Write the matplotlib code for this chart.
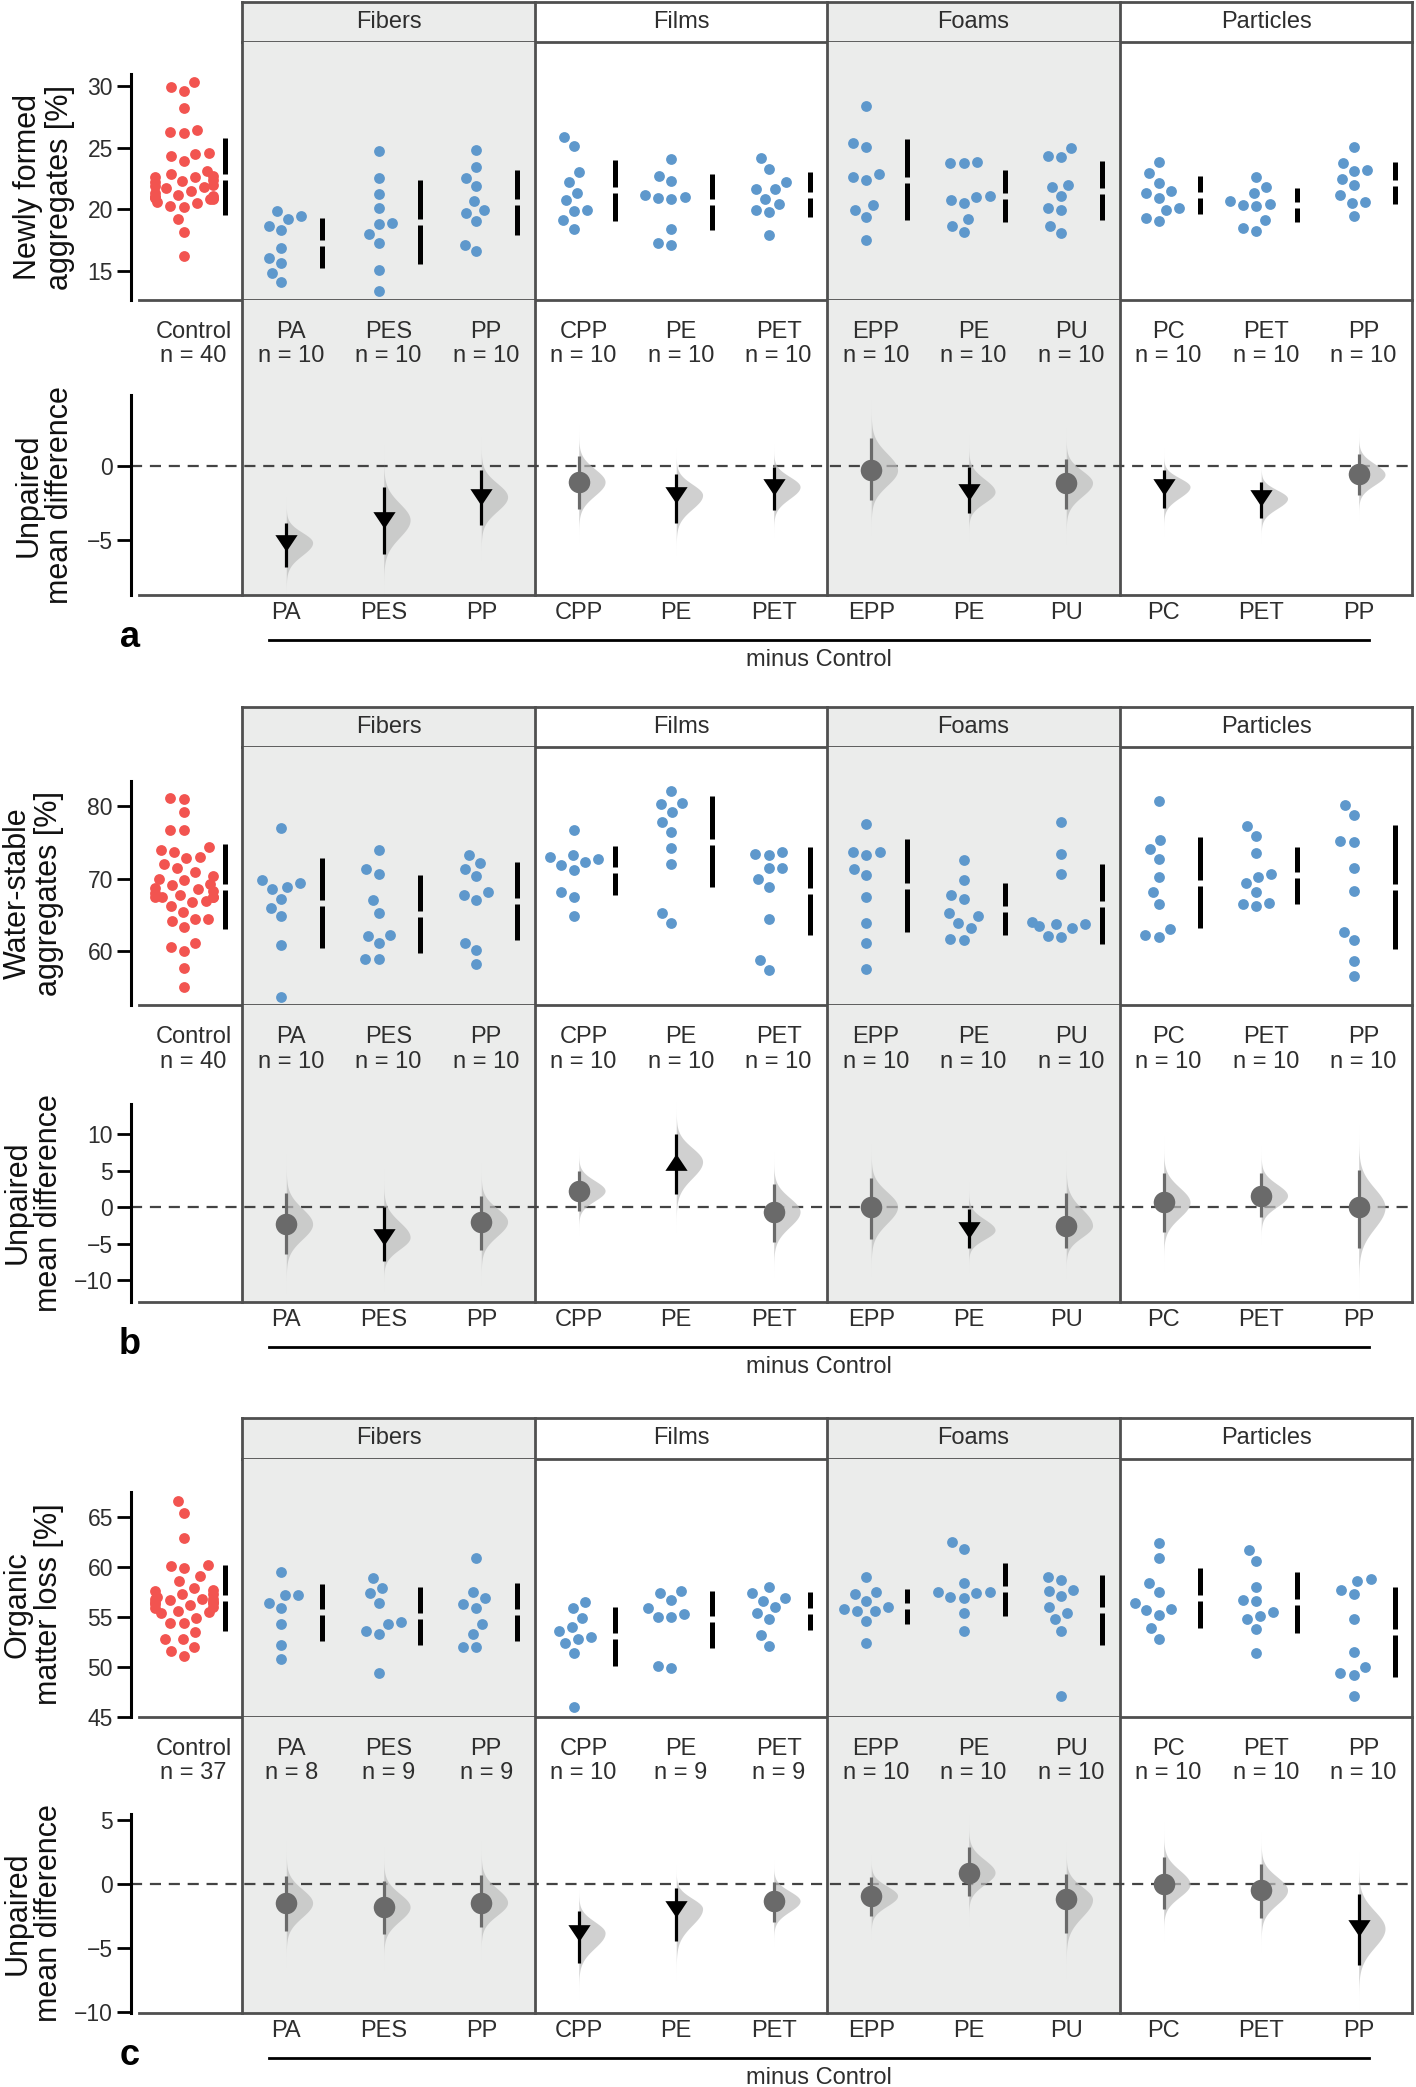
import numpy as np
import matplotlib
matplotlib.use('Agg')
import matplotlib.pyplot as plt
from matplotlib.transforms import offset_copy

plt.rcParams['font.family'] = ['Liberation Sans', 'DejaVu Sans']

# ---------------- data ----------------
groups = ['Fibers', 'Films', 'Foams', 'Particles']
shaded_groups = ['Fibers', 'Foams']
categories = ['Control', 'PA', 'PES', 'PP', 'CPP', 'PE', 'PET', 'EPP', 'PE', 'PU', 'PC', 'PET', 'PP']

# panel a : Newly formed aggregates [%]
a_control = [30.3, 29.9, 29.6, 28.2, 26.4, 26.2, 26.3, 24.6, 24.5, 24.3, 23.9, 23.1, 22.9, 22.7,
             22.6, 22.6, 22.4, 22.3, 22.2, 22.0, 21.9, 21.8, 21.7, 21.5, 21.3, 21.2, 21.1, 21.0,
             21.0, 20.9, 20.9, 20.8, 20.8, 20.6, 20.5, 20.3, 20.2, 19.2, 18.2, 16.2]
a_treat = [
    [19.25, 19.85, 19.44, 18.63, 18.30, 16.89, 16.05, 15.68, 14.86, 14.08],
    [24.75, 22.58, 21.28, 20.12, 18.90, 18.79, 17.98, 17.27, 15.11, 13.37],
    [24.83, 23.45, 22.58, 21.88, 20.66, 19.74, 19.93, 19.03, 17.14, 16.62],
    [25.88, 25.13, 23.01, 22.23, 21.33, 20.74, 19.95, 19.87, 19.11, 18.44],
    [24.10, 22.69, 22.31, 20.82, 21.01, 20.93, 21.17, 18.41, 17.27, 17.08],
    [24.15, 23.28, 22.23, 21.61, 21.66, 20.85, 20.47, 19.98, 19.79, 17.95],
    [28.38, 25.07, 25.34, 22.63, 22.42, 22.85, 20.36, 19.93, 19.39, 17.54],
    [23.72, 23.80, 23.77, 20.55, 21.01, 20.79, 21.06, 19.20, 18.65, 18.17],
    [24.21, 24.94, 24.32, 21.82, 22.01, 21.06, 20.12, 19.93, 18.65, 18.09],
    [23.85, 22.93, 22.17, 21.36, 21.47, 20.96, 20.09, 19.98, 19.33, 19.03],
    [22.63, 21.36, 21.82, 20.28, 20.47, 20.39, 20.66, 19.11, 18.52, 18.25],
    [25.02, 23.72, 23.18, 23.12, 22.50, 21.96, 21.15, 20.55, 20.63, 19.47],
]
a_bar_mean = [22.64, 17.30, 18.98, 20.59, 21.55, 20.60, 21.19, 22.39, 21.08, 21.50, 21.15, 20.36, 22.10]
a_bar_sd = [3.12, 2.03, 3.39, 2.64, 2.49, 2.30, 1.80, 3.28, 2.10, 2.39, 1.55, 1.38, 1.70]
a_delta = [-5.18, -3.65, -2.09, -1.08, -1.97, -1.41, -0.29, -1.75, -1.14, -1.41, -2.20, -0.58]
a_ci_lo = [-6.86, -5.94, -3.99, -2.91, -3.83, -2.98, -2.31, -3.20, -2.94, -2.87, -3.54, -1.97]
a_ci_hi = [-3.83, -1.46, -0.29, 0.65, -0.52, -0.07, 1.91, -0.07, 0.47, -0.25, -1.08, 0.83]

# panel b : Water-stable aggregates [%]
b_control = [81.1, 81.0, 79.1, 76.7, 76.7, 74.3, 73.9, 73.7, 73.0, 72.8, 72.0, 71.4, 70.9, 70.3,
             69.9, 69.8, 69.2, 69.1, 68.7, 68.5, 68.3, 68.0, 67.7, 67.5, 67.5, 67.5, 67.5, 66.9,
             66.8, 66.2, 65.4, 64.5, 64.4, 64.1, 63.3, 61.1, 60.6, 60.1, 57.7, 55.1]
b_treat = [
    [77.0, 69.4, 69.8, 68.5, 68.9, 67.2, 66.0, 64.9, 60.9, 53.7],
    [73.9, 70.6, 71.3, 67.0, 65.3, 62.1, 62.2, 61.1, 58.9, 58.9],
    [73.3, 72.2, 71.3, 70.4, 68.1, 67.8, 67.1, 61.1, 60.2, 58.2],
    [76.7, 73.0, 73.3, 72.3, 71.9, 72.7, 71.2, 68.1, 67.5, 64.8],
    [82.1, 80.2, 80.4, 79.1, 77.8, 76.4, 74.2, 72.0, 65.2, 63.9],
    [73.3, 73.7, 73.4, 71.5, 71.4, 69.9, 68.8, 64.4, 58.8, 57.4],
    [77.5, 73.6, 73.7, 73.3, 71.3, 70.5, 67.4, 63.9, 61.2, 57.6],
    [72.6, 69.8, 67.8, 67.2, 65.2, 64.8, 63.9, 63.2, 61.7, 61.6],
    [77.8, 73.4, 70.6, 63.5, 63.7, 63.7, 64.0, 63.2, 62.1, 62.0],
    [80.7, 75.3, 74.1, 72.7, 70.2, 68.2, 66.5, 62.2, 62.0, 63.0],
    [77.3, 75.9, 73.5, 70.2, 70.6, 69.4, 68.2, 66.5, 66.2, 66.7],
    [80.1, 78.7, 75.2, 75.0, 71.4, 68.3, 62.7, 61.5, 58.7, 56.6],
]
b_bar_mean = [68.9, 66.6, 65.1, 66.95, 71.15, 75.1, 68.25, 69.0, 65.8, 66.5, 69.45, 70.45, 68.85]
b_bar_sd = [5.9, 6.2, 5.4, 5.35, 3.35, 6.3, 6.05, 6.4, 3.6, 5.5, 6.25, 3.95, 8.55]
b_delta = [-2.28, -4.10, -1.96, 2.28, 6.26, -0.59, 0.09, -3.10, -2.50, 0.68, 1.60, 0.00]
b_ci_lo = [-6.39, -7.30, -5.84, -0.46, 1.83, -4.70, -4.34, -5.60, -5.60, -3.42, -1.37, -5.60]
b_ci_hi = [1.92, 0.00, 1.60, 5.00, 10.00, 3.15, 4.06, -0.23, 1.92, 4.66, 4.66, 5.10]

# panel c : Organic matter loss [%]
c_control = [66.56, 65.33, 62.9, 60.2, 60.1, 59.9, 59.1, 58.6, 57.9, 57.7, 57.6, 57.3, 57.3,
             57.0, 56.8, 56.8, 56.8, 56.7, 56.5, 56.5, 56.4, 56.3, 56.2, 56.0, 55.9, 55.6, 55.5,
             55.4, 54.9, 54.4, 54.4, 53.5, 52.8, 52.8, 52.0, 51.6, 51.1]
c_treat = [
    [59.45, 57.2, 57.2, 56.4, 55.9, 54.3, 52.2, 50.8],
    [58.9, 57.9, 57.4, 56.4, 54.5, 54.3, 53.3, 53.6, 49.4],
    [60.85, 57.5, 56.9, 56.3, 55.9, 54.3, 53.3, 52.0, 52.0],
    [56.5, 55.9, 54.9, 54.0, 53.6, 52.8, 53.0, 52.4, 51.4, 46.0],
    [57.4, 57.6, 56.7, 55.9, 55.0, 55.3, 54.97, 50.1, 49.9],
    [58.0, 57.4, 56.9, 56.6, 56.0, 55.4, 54.8, 53.2, 52.1],
    [59.0, 57.3, 57.5, 56.6, 56.0, 55.8, 55.6, 55.6, 54.6, 52.4],
    [62.5, 61.8, 58.4, 57.0, 57.5, 57.4, 56.9, 57.5, 55.4, 53.6],
    [59.0, 58.7, 57.7, 57.6, 57.1, 56.0, 55.4, 54.8, 53.6, 47.1],
    [62.4, 60.85, 58.4, 57.5, 56.4, 55.7, 55.8, 55.2, 53.9, 52.8],
    [61.7, 60.6, 58.0, 56.6, 56.7, 55.1, 55.5, 54.8, 53.8, 51.4],
    [58.75, 58.6, 57.7, 57.3, 54.8, 51.5, 49.95, 49.2, 49.4, 47.1],
]
c_bar_mean = [56.86, 55.45, 55.10, 55.47, 53.04, 54.75, 55.61, 56.03, 57.76, 55.70, 56.86, 56.45, 53.46]
c_bar_sd = [3.32, 2.84, 2.90, 2.86, 2.92, 2.87, 1.91, 1.76, 2.66, 3.49, 2.99, 3.07, 4.47]
c_delta = [-1.46, -1.78, -1.44, -3.81, -1.91, -1.31, -0.91, 0.91, -1.20, 0.00, -0.47, -3.47]
c_ci_lo = [-3.66, -3.94, -3.39, -6.14, -4.46, -2.95, -2.48, -0.91, -3.86, -1.96, -2.64, -6.34]
c_ci_hi = [0.65, 0.26, 0.70, -2.09, -0.34, 0.18, 0.57, 2.87, 0.76, 2.14, 1.57, -0.78]

ylabels_top = ['Newly formed\naggregates [%]', 'Water-stable\naggregates [%]', 'Organic\nmatter loss [%]']
ylabel_bottom = 'Unpaired\nmean difference'
panel_letters = ['a', 'b', 'c']

# ---------------- style / layout ----------------
RED = '#F25450'
BLUE = '#5E98CC'
SHADE = '#EBECEB'
FRAME = '#4F4F4F'
TXT = '#2E2E2E'
NS_GRAY = '#6A6A6A'
VIOLIN = '#BDBDBD'

W, H = 1416, 2087
X0, X1 = 139, 1412.3
XLIM = (-0.5606, 12.5)
PX_PER_CAT = (X1 - X0) / (XLIM[1] - XLIM[0])
DOT_PX = 10.8           # marker diameter in pixels
SWARM_SEP_PX = 13.5     # minimal centre distance between swarm dots
SWARM_HALF_PX = 29.0    # swarm gutter (half width) in pixels

panels = [
    dict(control=a_control, treat=a_treat, bar_mean=a_bar_mean, bar_sd=a_bar_sd,
         delta=a_delta, lo=a_ci_lo, hi=a_ci_hi, ylab=ylabels_top[0], letter=panel_letters[0],
         px=(2, 42, 300, 595), ylim_t=(12.65, 33.57), ylim_b=(-8.72, 11.2),
         ticks_t=[15, 20, 25, 30], ticks_b=[-5, 0], sb_t=30.97, sb_b=4.8, ylx=44),
    dict(control=b_control, treat=b_treat, bar_mean=b_bar_mean, bar_sd=b_bar_sd,
         delta=b_delta, lo=b_ci_lo, hi=b_ci_hi, ylab=ylabels_top[1], letter=panel_letters[1],
         px=(707, 747, 1005.3, 1301.7), ylim_t=(52.57, 88.1), ylim_b=(-12.93, 27.67),
         ticks_t=[60, 70, 80], ticks_b=[-10, -5, 0, 5, 10], sb_t=83.4, sb_b=14.2, ylx=33),
    dict(control=c_control, treat=c_treat, bar_mean=c_bar_mean, bar_sd=c_bar_sd,
         delta=c_delta, lo=c_ci_lo, hi=c_ci_hi, ylab=ylabels_top[2], letter=panel_letters[2],
         px=(1418, 1459, 1717, 2012.7), ylim_t=(45.0, 70.75), ylim_b=(-10.06, 13.08),
         ticks_t=[45, 50, 55, 60, 65], ticks_b=[-10, -5, 0, 5], sb_t=67.5, sb_b=5.5, ylx=33),
]

fig = plt.figure(figsize=(W / 100, H / 100), dpi=100)
fig.patch.set_facecolor('white')


def add_ax(top_px, bot_px):
    ax = fig.add_axes([X0 / W, 1 - bot_px / H, (X1 - X0) / W, (bot_px - top_px) / H])
    ax.set_facecolor('none')
    ax.set_xlim(*XLIM)
    ax.set_xticks([])
    return ax


def beeswarm(y_px, d, half):
    """seaborn-like beeswarm in pixel space, points beyond the gutter are clipped to it"""
    y_px = np.asarray(y_px, float)
    order = np.argsort(y_px)
    px_list, py_list = [], []
    off = np.zeros(len(y_px))
    for i in order:
        y = y_px[i]
        cands = [0.0]
        for qx, qy in zip(px_list, py_list):
            dy = abs(y - qy)
            if dy < d:
                dx = np.sqrt(d * d - dy * dy)
                cands += [qx + dx, qx - dx]
        cands.sort(key=lambda c: (abs(c), c))
        for c in cands:
            if all((c - qx) ** 2 + (y - qy) ** 2 >= d * d - 1e-6 for qx, qy in zip(px_list, py_list)):
                off[i] = c
                break
        px_list.append(off[i])
        py_list.append(y)
    return np.clip(off, -half, half)


boundaries = [0.5 + 3 * g for g in range(5)]
positions = np.arange(len(categories))
dot_s = (DOT_PX * 72 / 100) ** 2

for P in panels:
    hdr_top, hdr_bot, top_bot, bot_bot = P['px']
    axh = add_ax(hdr_top, hdr_bot)
    axt = add_ax(hdr_bot, top_bot)
    axb = add_ax(top_bot, bot_bot)

    for ax in (axh, axt, axb):
        for g, gname in enumerate(groups):
            if gname in shaded_groups:
                ax.axvspan(boundaries[g], boundaries[g + 1], color=SHADE, lw=0, zorder=0)
        for bx in boundaries:
            ax.axvline(bx, color=FRAME, lw=2.0, zorder=1, clip_on=False)

    # header
    axh.set_ylim(0, 1)
    axh.set_yticks([])
    for s in axh.spines.values():
        s.set_visible(False)
    for yy in (0, 1):
        axh.plot([boundaries[0], boundaries[-1]], [yy, yy], color=FRAME, lw=2.0,
                 clip_on=False, solid_capstyle='projecting', zorder=2)
    for g, gname in enumerate(groups):
        axh.text((boundaries[g] + boundaries[g + 1]) / 2, 0.5, gname, ha='center', va='center',
                 fontsize=17, color=TXT)

    # top swarm axes
    axt.set_ylim(*P['ylim_t'])
    for ax, ticks in ((axt, P['ticks_t']), (axb, P['ticks_b'])):
        ax.spines['top'].set_visible(False)
        ax.spines['right'].set_visible(False)
        ax.spines['bottom'].set_color(FRAME)
        ax.spines['bottom'].set_linewidth(2.0)
        ax.spines['left'].set_color('black')
        ax.spines['left'].set_linewidth(2.2)
        ax.spines['left'].set_position(('outward', 5.8))
        ax.set_yticks(ticks)
        ax.tick_params(axis='y', length=10, width=2.0, color='black', labelsize=16.5,
                       labelcolor=TXT, pad=3)
        ax.tick_params(axis='x', length=0)

    axt.spines['left'].set_bounds(P['ylim_t'][0], P['sb_t'])

    ppy = (top_bot - hdr_bot) / (P['ylim_t'][1] - P['ylim_t'][0])
    all_groups = [P['control']] + P['treat']
    for i, vals in enumerate(all_groups):
        vals = np.asarray(vals)
        off = beeswarm(vals * ppy, SWARM_SEP_PX, SWARM_HALF_PX)
        xs = positions[i] - 0.1 + off / PX_PER_CAT
        axt.scatter(xs, vals, s=dot_s, color=RED if i == 0 else BLUE, linewidths=0, zorder=3)
        # gapped mean +/- sd bar
        m, sd = P['bar_mean'][i], P['bar_sd'][i]
        gap = 3.0 / ppy
        bx = positions[i] + 0.32
        axt.plot([bx, bx], [m - sd, m - gap], color='black', lw=3.6, solid_capstyle='butt', zorder=3)
        axt.plot([bx, bx], [m + gap, m + sd], color='black', lw=3.6, solid_capstyle='butt', zorder=3)

    yc = (P['ylim_t'][0] + P['sb_t']) / 2
    axt.text((P['ylx'] - X0) / (X1 - X0), (yc - P['ylim_t'][0]) / (P['ylim_t'][1] - P['ylim_t'][0]),
             P['ylab'], transform=axt.transAxes, rotation=90, ha='center', va='center',
             fontsize=22, color='#111111', linespacing=1.05, multialignment='center')

    # bottom contrast axes
    axb.set_ylim(*P['ylim_b'])
    axb.spines['left'].set_bounds(P['ylim_b'][0], P['sb_b'])
    axb.axhline(0, xmin=-0.006, color='#444444', lw=1.6, ls=(0, (5, 3.5)), zorder=1.5, clip_on=False)

    tr_top = offset_copy(axb.get_xaxis_transform(), fig=fig, x=0, y=-44, units='dots')
    for i, vals in enumerate(all_groups):
        axb.text(positions[i], 1, f"{categories[i]}\nn = {len(vals)}", transform=tr_top,
                 ha='center', va='center', fontsize=17, color=TXT, linespacing=1.15)

    tr_bot = offset_copy(axb.get_xaxis_transform(), fig=fig, x=0, y=-18, units='dots')
    for j in range(len(P['delta'])):
        i = j + 1
        x = positions[i] - 0.05
        d, lo, hi = P['delta'][j], P['lo'][j], P['hi'][j]
        sd_lo = (d - lo) / 1.96
        sd_hi = (hi - d) / 1.96
        yy = np.linspace(d - 4.5 * sd_lo, d + 4.5 * sd_hi, 300)
        sdv = np.where(yy < d, sd_lo, sd_hi)
        dens = np.exp(-0.5 * ((yy - d) / sdv) ** 2)
        axb.fill_betweenx(yy, x, x + 0.27 * dens, color=VIOLIN, alpha=0.7, lw=0, zorder=2)
        sig = (hi <= 0) or (lo > 0)
        col = 'black' if sig else NS_GRAY
        axb.plot([x, x], [lo, hi], color=col, lw=2.3, solid_capstyle='butt', zorder=3)
        if sig:
            if d < 0:
                mk = [(-1, 0.75), (1, 0.75), (0, -0.75)]
            else:
                mk = [(-1, -0.75), (1, -0.75), (0, 0.75)]
            axb.plot([x], [d], marker=mk, ms=16, color='black', mew=0, zorder=4)
        else:
            axb.plot([x], [d], marker='o', ms=15.5, color=NS_GRAY, mew=0, zorder=4)
        axb.text(x, 0, categories[i], transform=tr_bot, ha='center', va='center',
                 fontsize=17, color=TXT)

    ycb = (P['ylim_b'][0] + P['sb_b']) / 2
    axb.text((P['ylx'] - X0) / (X1 - X0), (ycb - P['ylim_b'][0]) / (P['ylim_b'][1] - P['ylim_b'][0]),
             ylabel_bottom, transform=axb.transAxes, rotation=90, ha='center', va='center',
             fontsize=22, color='#111111', linespacing=1.05, multialignment='center')

    # "minus Control" bracket line
    lx0 = positions[1] - 0.23
    lx1 = positions[-1] + 0.06
    tr_line = offset_copy(axb.get_xaxis_transform(), fig=fig, x=0, y=-45, units='dots')
    axb.plot([lx0, lx1], [0, 0], transform=tr_line, color='black', lw=2.0, clip_on=False)
    tr_mc = offset_copy(axb.get_xaxis_transform(), fig=fig, x=0, y=-65, units='dots')
    axb.text((lx0 + lx1) / 2, 0, 'minus Control', transform=tr_mc, ha='center', va='center',
             fontsize=17, color=TXT)

    fig.text(130 / W, 1 - (bot_bot + 52) / H, P['letter'], ha='center', va='baseline',
             fontsize=26, fontweight='bold', color='black')

fig.savefig('out.png', dpi=100, facecolor='white')
